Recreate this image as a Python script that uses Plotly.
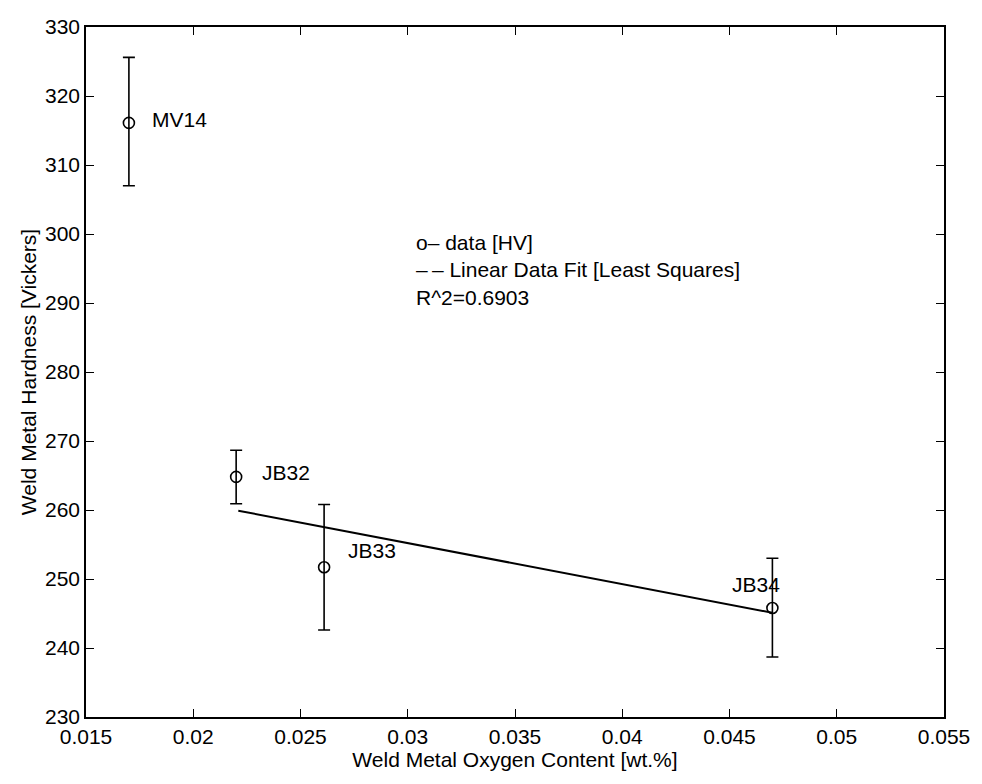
import plotly.graph_objects as go

# weld samples
names = ['MV14', 'JB32', 'JB33', 'JB34']
oxygen = [0.0170, 0.0220, 0.0261, 0.0470]
hardness = [316.1, 264.8, 251.7, 245.8]
err_up = [9.5, 3.85, 9.1, 7.2]
err_down = [9.1, 3.9, 9.1, 7.1]

# where the sample names sit
label_x = [0.0180, 0.0231, 0.0271, 0.0450]
label_y = [316.6, 265.5, 254.1, 249.2]

# least squares line, endpoints
fit_x = [0.0221, 0.0470]
fit_y = [259.9, 245.1]

legend_lines = ['o\u2013 data [HV]', '\u2013\u2009\u2013 Linear Data Fit [Least Squares]', 'R^2=0.6903']
legend_y = [298.8, 294.9, 290.8]

x_ticks = [0.015, 0.02, 0.025, 0.03, 0.035, 0.04, 0.045, 0.05, 0.055]
x_labels = ['0.015', '0.02', '0.025', '0.03', '0.035', '0.04', '0.045', '0.05', '0.055']
y_ticks = list(range(230, 331, 10))

font = dict(family='Liberation Sans, Arial, sans-serif', size=21, color='black')

fig = go.Figure()
fig.add_trace(go.Scatter(
    x=oxygen, y=hardness, mode='markers',
    marker=dict(symbol='circle-open', size=11, color='black', line=dict(width=1.6)),
    error_y=dict(type='data', symmetric=False, array=err_up, arrayminus=err_down,
                 color='black', thickness=1.6, width=6),
    showlegend=False))
fig.add_trace(go.Scatter(x=fit_x, y=fit_y, mode='lines',
                         line=dict(color='black', width=2), showlegend=False))

for n, x, y in zip(names, label_x, label_y):
    fig.add_annotation(x=x, y=y, text=n, showarrow=False, xanchor='left', font=font)

for t, y in zip(legend_lines, legend_y):
    fig.add_annotation(x=0.0303, y=y, text=t, showarrow=False, xanchor='left', font=font)

axis = dict(showline=True, linecolor='black', linewidth=1.6, mirror='ticks',
            ticks='inside', ticklen=8, tickcolor='black', tickwidth=1.3,
            showgrid=False, zeroline=False, tickfont=font)

fig.update_layout(
    width=982, height=784,
    margin=dict(l=86, r=32, t=27, b=67),
    paper_bgcolor='white', plot_bgcolor='white',
    font=font,
    xaxis=dict(axis, range=[0.015, 0.055], tickvals=x_ticks, ticktext=x_labels,
               title=dict(text='Weld Metal Oxygen Content [wt.%]', font=font, standoff=2)),
    yaxis=dict(axis, range=[230, 330], tickvals=y_ticks,
               title=dict(text='Weld Metal Hardness [Vickers]', font=font, standoff=3)),
)

# drop the page's default body margin so the figure sits at the window's corner
fig.write_html('out.html', config={'displayModeBar': False},
               post_script="document.body.style.margin='0';")
